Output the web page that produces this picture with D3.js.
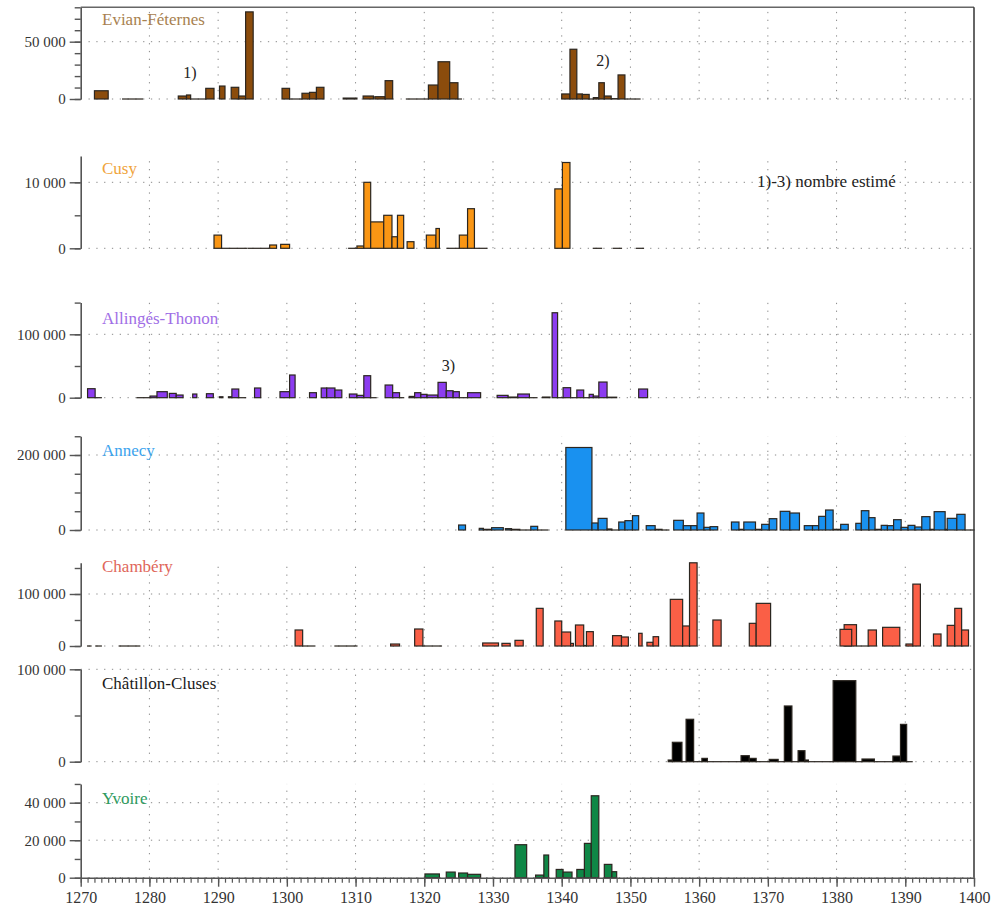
<!DOCTYPE html>
<html><head><meta charset="utf-8">
<script src="https://cdn.jsdelivr.net/npm/d3@7"></script>
<style>
html,body{margin:0;padding:0;background:#fff;}
</style></head>
<body><svg id="c" width="1005" height="913"></svg>
<script>
// ---- DATA: [startYear, endYear, value] ----
const panelNames = ["Evian-Féternes","Cusy","Allingés-Thonon","Annecy","Chambéry","Châtillon-Cluses","Yvoire"];
const evianBars = [
 [1272.0,1274.0,7200],[1276.1,1279.0,0],[1284.2,1285.4,2600],[1285.4,1286.0,3500],[1286.0,1288.2,0],
 [1288.2,1289.4,9300],[1290.2,1291.0,11300],[1291.9,1293.0,10200],[1293.0,1294.0,2600],[1294.0,1295.1,76000],
 [1299.3,1300.4,9300],[1300.4,1302.2,0],[1302.2,1303.3,5000],[1303.3,1304.3,5800],[1304.3,1305.4,10200],
 [1308.2,1310.2,800],[1311.1,1312.6,2600],[1312.8,1314.3,2000],[1314.3,1315.4,16000],[1317.4,1320.6,0],
 [1320.6,1322.0,12200],[1322.0,1323.7,32500],[1323.7,1324.9,14200],[1324.9,1325.4,0],
 [1340.0,1341.2,4400],[1341.2,1342.2,43400],[1342.2,1343.0,4400],[1343.0,1344.0,4000],[1344.0,1344.6,0],
 [1344.6,1345.4,1200],[1345.4,1346.2,14200],[1346.2,1347.2,2600],[1347.2,1348.2,300],[1348.2,1349.2,21000],[1349.2,1351.4,0]
];
const cusyBars = [
 [1289.4,1290.5,2000],[1290.5,1294.2,0],[1294.4,1297.4,0],[1297.5,1298.5,500],[1299.1,1300.4,600],
 [1309.0,1310.2,0],[1310.2,1311.2,350],[1311.2,1312.2,10000],[1312.2,1314.1,4000],[1314.1,1315.3,5000],
 [1315.3,1316.1,1750],[1316.1,1317.0,5000],[1317.5,1318.5,1000],[1320.3,1321.7,2000],[1321.7,1322.2,3000],
 [1323.3,1325.1,0],[1325.1,1326.3,2000],[1326.3,1327.3,6000],[1327.3,1329.1,0],
 [1339.0,1340.1,9000],[1340.1,1341.2,13000],[1344.6,1345.8,0],[1347.5,1348.7,0],[1350.9,1351.9,0]
];
const allingesBars = [
 [1271.0,1272.1,14200],[1272.1,1273.0,0],[1278.2,1280.1,0],[1280.1,1281.1,2600],[1281.1,1282.6,9500],
 [1282.9,1283.9,6800],[1283.9,1284.9,4200],[1286.3,1286.9,5800],[1288.3,1289.3,6300],[1290.2,1290.7,1500],
 [1291.5,1292.0,1500],[1292.0,1293.0,13700],[1293.0,1294.0,0],[1295.3,1296.2,15300],[1299.0,1300.4,9500],
 [1300.4,1301.2,35800],[1303.3,1304.3,7900],[1305.0,1305.8,15300],[1305.8,1307.0,15300],[1307.0,1308.0,12100],
 [1309.1,1310.2,5800],[1310.2,1311.2,3700],[1311.2,1312.2,34700],[1312.2,1313.0,0],[1314.3,1315.4,20000],
 [1315.4,1316.4,7900],[1316.4,1317.0,0],[1317.8,1318.6,2000],[1318.6,1319.5,7900],[1319.5,1320.4,5300],
 [1320.4,1322.0,4200],[1322.0,1323.2,24200],[1323.2,1324.2,11000],[1324.2,1325.1,9500],[1325.1,1326.3,0],
 [1326.3,1328.2,7900],[1330.6,1332.2,3700],[1332.2,1333.6,1000],[1333.6,1335.3,5800],[1335.3,1336.4,0],
 [1337.2,1338.3,1000],[1338.6,1339.4,134000],[1339.4,1340.2,0],[1340.2,1341.3,15800],[1341.3,1342.2,0],
 [1342.2,1343.2,12100],[1343.2,1344.0,0],[1344.0,1344.6,5300],[1344.6,1345.4,2600],[1345.4,1346.6,24700],
 [1346.6,1348.0,800],[1351.2,1352.5,13700]
];
const annecyBars = [
 [1325.0,1326.0,13300],[1328.0,1328.6,4400],[1328.6,1329.8,1800],[1329.8,1331.5,6200],[1331.8,1332.7,3600],
 [1332.7,1333.9,1800],[1333.9,1335.5,0],[1335.5,1336.5,9800],[1336.5,1338.0,0],[1340.6,1344.4,220000],
 [1344.4,1345.3,18700],[1345.3,1346.6,31000],[1346.6,1347.3,2700],[1347.3,1348.3,0],[1348.3,1349.2,21300],
 [1349.2,1350.3,24900],[1350.3,1351.2,38200],[1352.3,1353.6,11600],[1353.6,1354.6,1800],[1354.6,1355.6,0],
 [1356.3,1357.7,25800],[1357.7,1358.8,11600],[1358.8,1359.7,11600],[1359.7,1360.7,45300],[1360.7,1361.6,7100],
 [1361.6,1362.7,8900],[1364.7,1365.8,21300],[1365.8,1366.5,1800],[1366.5,1368.2,21300],[1368.2,1369.1,1800],
 [1369.1,1370.2,15100],[1370.2,1371.3,30200],[1371.8,1373.2,49800],[1373.2,1374.6,45300],[1375.3,1376.5,11600],
 [1376.5,1377.4,11600],[1377.4,1378.4,36400],[1378.4,1379.5,53300],[1379.5,1380.6,1800],[1380.6,1381.7,15100],
 [1382.8,1383.6,17800],[1383.6,1384.7,51500],[1384.7,1385.6,32900],[1385.6,1386.5,1800],[1386.5,1387.4,12400],
 [1387.4,1388.3,11600],[1388.3,1389.4,27500],[1389.4,1390.4,7100],[1390.4,1391.4,12400],[1391.4,1392.4,8000],
 [1392.4,1393.6,35600],[1393.6,1394.2,1800],[1394.2,1395.8,48900],[1395.8,1396.1,1800],[1396.1,1397.5,31100],
 [1397.5,1398.7,41800],[1398.7,1400.0,0]
];
const chamberyBars = [
 [1271.0,1271.5,0],[1272.2,1273.0,0],[1275.6,1278.6,0],[1301.2,1302.3,30800],[1302.3,1304.0,0],
 [1307.0,1310.2,0],[1315.1,1316.4,3800],[1318.6,1319.8,32700],[1319.8,1322.5,0],[1328.5,1330.8,5800],
 [1331.3,1332.5,5100],[1333.2,1334.4,10900],[1336.3,1337.3,72400],[1339.0,1340.0,48100],[1340.0,1341.3,26900],
 [1341.3,1341.7,5000],[1342.0,1343.2,40400],[1343.2,1343.6,1000],[1343.6,1344.6,27600],[1347.4,1348.7,19900],
 [1348.7,1349.7,17300],[1351.2,1351.7,24400],[1352.4,1353.3,7100],[1353.3,1354.1,17900],[1355.8,1357.6,89700],
 [1357.6,1358.6,38500],[1358.6,1359.7,160000],[1362.0,1363.2,50000],[1367.3,1368.3,43600],[1368.3,1370.4,82000],
 [1381.1,1382.9,41000],[1380.5,1382.2,32000],[1383.0,1384.6,0],[1384.6,1385.8,30800],[1386.7,1389.2,35900],
 [1390.1,1391.1,3800],[1391.1,1392.2,119000],[1394.1,1395.2,23100],[1396.1,1397.2,39700],[1397.2,1398.2,72400],
 [1398.2,1399.2,30800]
];
const chatillonBars = [
 [1355.5,1356.1,1800],[1356.1,1357.5,21000],[1357.5,1358.1,0],[1358.1,1359.2,45900],[1359.2,1360.4,0],
 [1360.4,1361.2,3600],[1361.2,1366.1,0],[1366.1,1367.3,6500],[1367.3,1368.3,3600],[1368.3,1370.2,0],
 [1370.2,1371.5,2500],[1371.5,1372.4,0],[1372.4,1373.5,60300],[1373.5,1374.4,0],[1374.4,1375.4,11900],
 [1375.4,1375.9,1800],[1375.9,1379.5,0],[1379.5,1382.8,87700],[1382.8,1383.7,0],[1383.7,1385.5,2900],
 [1385.5,1388.2,0],[1388.2,1389.3,6100],[1389.3,1390.2,40400],[1390.2,1391.0,0]
];
const yvoireBars = [
 [1320.1,1322.2,2000],[1323.2,1324.5,3000],[1325.0,1326.3,2500],[1326.3,1328.2,1800],[1333.2,1334.9,17600],
 [1336.2,1337.4,1400],[1337.4,1338.1,12100],[1339.2,1340.2,4400],[1340.2,1341.5,3000],[1342.2,1343.3,4400],
 [1343.3,1344.3,18300],[1344.3,1345.4,43700],[1346.2,1347.3,7100],[1347.3,1348.0,3200]
];
const panelBars = [evianBars,cusyBars,allingesBars,annecyBars,chamberyBars,chatillonBars,yvoireBars];
const yMax = [80000,14000,150000,250000,160000,100000,50000];
const yLabelTicks = [[0,50000],[0,10000],[0,100000],[0,200000],[0,100000],[0,100000],[0,20000,40000]];
const yMinorStep = [10000,5000,50000,50000,50000,50000,10000];
const xLabelTicks = [1270,1280,1290,1300,1310,1320,1330,1340,1350,1360,1370,1380,1390,1400];
const notes = [{t:"1)",year:1285.9,panel:0,v:21500},{t:"2)",year:1346.0,panel:0,v:32000},{t:"3)",year:1323.5,panel:2,v:48000}];
const noteText = "1)-3) nombre estimé";

// ---- STYLE / LAYOUT ----
const FONT = "'Liberation Serif', 'Times New Roman', Times, serif";
const barFill = ["#8b4c0c","#fa9614","#8c3cf0","#1991f0","#fa5f46","#000000","#0f8746"];
const labelColor = ["#a8814f","#f0a43c","#9f6ee6","#3da4ee","#e0665a","#1a1a1a","#2e9a5e"];
const baseline = [99,248.3,397.7,530,646,761.7,877.7];
const topPx = [7.3,155.9,302.6,436.25,562.8,669.3,783.95];
const labelY = [21.5,170.5,320,452,568,685,800];

const svg = d3.select("#c");
const x = d3.scaleLinear().domain([1270,1400]).range([80.7,974]);
const fmt = d3.formatLocale({decimal:".",thousands:" ",grouping:[3],currency:["",""]}).format(",");
const gridYears = d3.range(1280,1400,10);

panelBars.forEach((bars,i)=>{
  const y = d3.scaleLinear().domain([0,yMax[i]]).range([baseline[i],topPx[i]]);
  const g = svg.append("g");
  g.selectAll("line.vg").data(gridYears).join("line")
    .attr("x1",d=>x(d)).attr("x2",d=>x(d)).attr("y1",y(0)).attr("y2",y(yMax[i]))
    .attr("stroke","#8a8a8a").attr("stroke-width",1).attr("stroke-dasharray","1.3,6.5");
  g.selectAll("line.hg").data(yLabelTicks[i]).join("line")
    .attr("x1",x(1270)).attr("x2",x(1400)).attr("y1",d=>y(d)).attr("y2",d=>y(d))
    .attr("stroke","#8a8a8a").attr("stroke-width",1).attr("stroke-dasharray","1.3,6.5");
  g.selectAll("rect").data(bars).join("rect")
    .attr("x",d=>x(d[0])).attr("width",d=>x(d[1])-x(d[0]))
    .attr("y",d=>y(d[2])).attr("height",d=>Math.max(y(0)-y(d[2]),0.01))
    .attr("fill",barFill[i]).attr("stroke","#2b2620").attr("stroke-width",1.2);
  const minor = d3.range(0,yMax[i]+1,yMinorStep[i]);
  const am = d3.axisLeft(y).tickValues(minor).tickSize(6).tickSizeOuter(0).tickFormat("");
  const ga = g.append("g").attr("transform",`translate(${x(1270)},0)`).call(am);
  ga.select(".domain").attr("stroke","#555").attr("stroke-width",1.6);
  ga.selectAll(".tick line").attr("stroke","#555").attr("stroke-width",1.4);
  const al = d3.axisLeft(y).tickValues(yLabelTicks[i]).tickSize(11).tickSizeOuter(0).tickFormat(fmt).tickPadding(4);
  const gl = g.append("g").attr("transform",`translate(${x(1270)},0)`).call(al);
  gl.select(".domain").remove();
  gl.selectAll(".tick line").attr("stroke","#555").attr("stroke-width",1.4);
  gl.selectAll(".tick text").style("font-family",FONT).style("font-size","15px").attr("fill","#333");
  g.append("text").attr("x",102).attr("y",labelY[i]).attr("dominant-baseline","middle")
    .style("font-family",FONT).style("font-size","17px").attr("fill",labelColor[i]).text(panelNames[i]);
  notes.filter(n=>n.panel===i).forEach(n=>{
    g.append("text").attr("x",x(n.year)).attr("y",y(n.v)).attr("text-anchor","middle")
      .attr("dominant-baseline","middle").style("font-family",FONT).style("font-size","16px")
      .attr("fill","#222").text(n.t);
  });
});

svg.append("text").attr("x",757).attr("y",183).attr("dominant-baseline","middle")
  .style("font-family",FONT).style("font-size","17px").attr("fill","#222").text(noteText);

svg.append("line").attr("x1",x(1270)).attr("x2",x(1400)).attr("y1",topPx[0]).attr("y2",topPx[0])
  .attr("stroke","#666").attr("stroke-width",1.5);
svg.append("line").attr("x1",x(1400)).attr("x2",x(1400)).attr("y1",topPx[0]).attr("y2",baseline[6])
  .attr("stroke","#333").attr("stroke-width",1.5);

const years = d3.range(1270,1401,1);
const bm = d3.axisBottom(x).tickValues(years).tickSize(5).tickSizeOuter(0).tickFormat("");
const gbm = svg.append("g").attr("transform",`translate(0,${baseline[6]})`).call(bm);
gbm.select(".domain").attr("stroke","#555").attr("stroke-width",1.6);
gbm.selectAll(".tick line").attr("stroke","#555").attr("stroke-width",1.2);
const bl = d3.axisBottom(x).tickValues(xLabelTicks).tickSize(9).tickSizeOuter(0).tickFormat(d=>String(d)).tickPadding(5);
const gbl = svg.append("g").attr("transform",`translate(0,${baseline[6]})`).call(bl);
gbl.select(".domain").remove();
gbl.selectAll(".tick line").attr("stroke","#555").attr("stroke-width",1.4);
gbl.selectAll(".tick text").style("font-family",FONT).style("font-size","16px").attr("fill","#333");
</script></body></html>
